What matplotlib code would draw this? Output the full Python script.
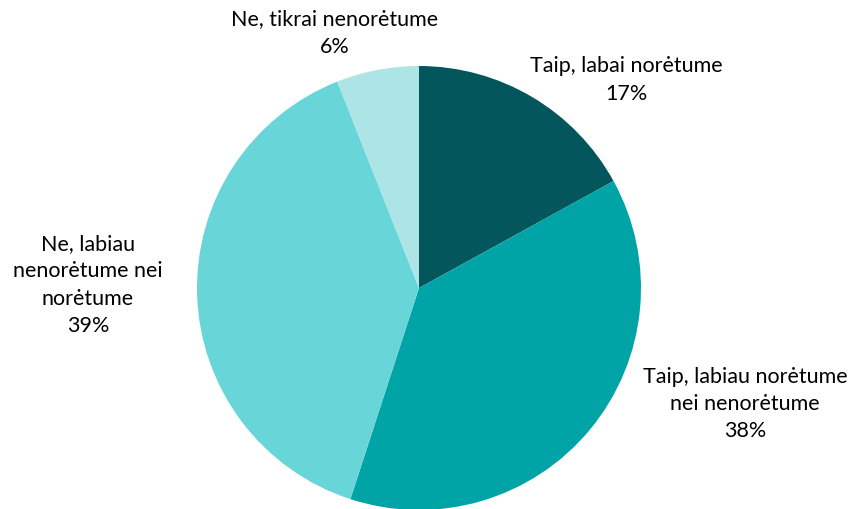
import matplotlib as mpl
from matplotlib import pyplot as plt

mpl.rcParams["font.family"] = ["Lato", "DejaVu Sans"]

labels = ["Taip, labai norėtume", "Taip, labiau norėtume\nnei nenorėtume",
          "Ne, labiau\nnenorėtume nei\nnorėtume", "Ne, tikrai nenorėtume"]
shares = [17, 38, 39, 6]
colors = ["#03575C", "#00A4A6", "#68D6D9", "#ADE5E6"]

# label centre positions in pixels (x from left, y from top)
label_pos = [(626, 80), (745, 404), (88, 285), (335, 33)]

W, H = 857, 510
fig = plt.figure(figsize=(W / 100, H / 100), dpi=100)
ax = fig.add_axes([0, 0, 1, 1])

ax.pie(shares, colors=colors, startangle=90, counterclock=False,
       center=(419, H - 289), radius=222, frame=True,
       wedgeprops=dict(linewidth=0))
ax.set_xlim(0, W)
ax.set_ylim(0, H)
ax.set_aspect("equal")
ax.axis("off")

for lab, val, (x, y) in zip(labels, shares, label_pos):
    ax.text(x, H - y, f"{lab}\n{val}%", ha="center", va="center",
            fontsize=15.5, linespacing=1.45, color="#000000")

fig.savefig("out.png", dpi=100)
